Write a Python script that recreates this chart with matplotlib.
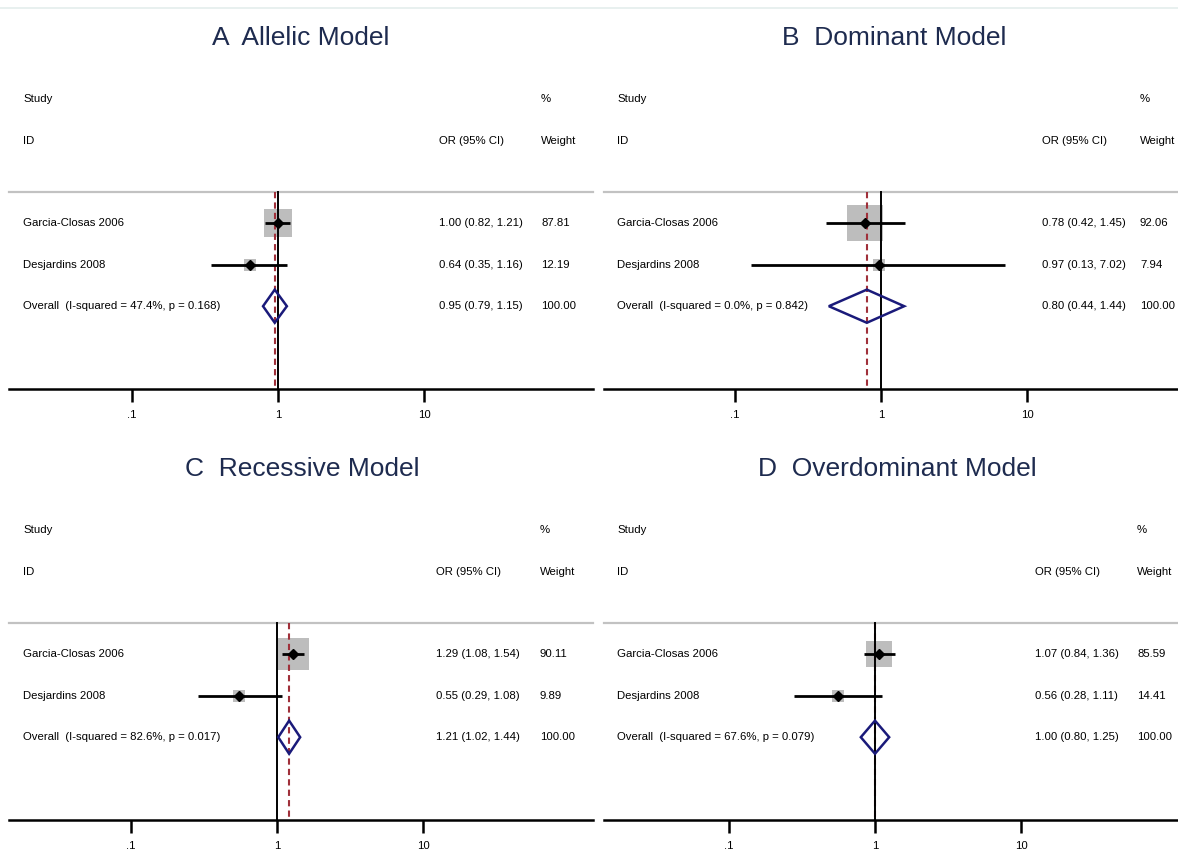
import numpy as np
import matplotlib
matplotlib.use("Agg")
import matplotlib.pyplot as plt
from matplotlib.patches import Polygon
from matplotlib.lines import Line2D
from matplotlib.transforms import blended_transform_factory

plt.rcParams['font.family'] = ['Liberation Sans', 'DejaVu Sans']

# ---------------- data ----------------
titles = ["A  Allelic Model", "B  Dominant Model", "C  Recessive Model", "D  Overdominant Model"]
studies = ["Garcia-Closas 2006", "Desjardins 2008"]

or_est = [[1.00, 0.64], [0.78, 0.97], [1.29, 0.55], [1.07, 0.56]]
or_lo = [[0.82, 0.35], [0.42, 0.13], [1.08, 0.29], [0.84, 0.28]]
or_hi = [[1.21, 1.16], [1.45, 7.02], [1.54, 1.08], [1.36, 1.11]]
weights = [[87.81, 12.19], [92.06, 7.94], [90.11, 9.89], [85.59, 14.41]]

pool_est = [0.95, 0.80, 1.21, 1.00]
pool_lo = [0.79, 0.44, 1.02, 0.80]
pool_hi = [1.15, 1.44, 1.44, 1.25]
i_squared = ["47.4%", "0.0%", "82.6%", "67.6%"]
p_het = ["0.168", "0.842", "0.017", "0.079"]

xticks = [0.1, 1, 10]
xtick_labels = [".1", "1", "10"]

# ---------------- layout (pixels) ----------------
W, H = 1178, 852
DECADE = 146.3
ROW = 41.4
# left, right, null-line x, axis y, (study col, OR col, weight col), title (x, y), box scale
layout = [
    (9, 593, 278, 389, (23, 439, 541), (301, 38), 2.64),
    (604, 1178, 881, 389, (617, 1042, 1140), (894, 38), 3.4),
    (9, 593, 277, 820, (23, 436, 540), (302, 469), 3.0),
    (604, 1178, 875, 820, (617, 1035, 1137), (897, 469), 2.5),
]

TXT = 8.2
NAVY = "#1A1A7A"
RED = "#A0303A"
BOXGRAY = "#BDBDBD"
SEPGRAY = "#C2C2C2"
TITLE_C = "#1E2B4F"

fig = plt.figure(figsize=(W / 100, H / 100), dpi=100)
fig.add_artist(Line2D([0, 1], [1 - 8 / H, 1 - 8 / H], color="#E4EEEC", lw=1.2))

y_top, y_bot = -3.5, 4.0
sep_y = -0.75

for k in range(4):
    left, right, null_x, axis_y, cols, tpos, bscale = layout[k]
    h_px = (y_bot - y_top) * ROW
    ax = fig.add_axes([left / W, 1 - axis_y / H, (right - left) / W, h_px / H])
    ax.set_xscale("log")
    ax.set_xlim(10 ** ((left - null_x) / DECADE), 10 ** ((right - null_x) / DECADE))
    ax.set_ylim(y_bot, y_top)
    ax.patch.set_alpha(0)

    for s in ["top", "left", "right"]:
        ax.spines[s].set_visible(False)
    ax.spines["bottom"].set_linewidth(1.8)
    ax.set_yticks([])
    ax.set_xticks(xticks)
    ax.set_xticklabels(xtick_labels, fontsize=TXT)
    ax.minorticks_off()
    ax.tick_params(axis="x", direction="out", length=9.4, width=1.8, pad=6)

    tr = blended_transform_factory(ax.transAxes, ax.transData)
    fx = [(c - left) / (right - left) for c in cols]

    # header
    ax.text(fx[0], -3, "Study", transform=tr, fontsize=TXT, va="center")
    ax.text(fx[0], -2, "ID", transform=tr, fontsize=TXT, va="center")
    ax.text(fx[1], -2, "OR (95% CI)", transform=tr, fontsize=TXT, va="center")
    ax.text(fx[2], -3, "%", transform=tr, fontsize=TXT, va="center")
    ax.text(fx[2], -2, "Weight", transform=tr, fontsize=TXT, va="center")
    ax.plot([0, 1], [sep_y, sep_y], transform=tr, color=SEPGRAY, lw=1.6, clip_on=False)

    # boxes
    for i in range(len(studies)):
        side_px = bscale * np.sqrt(weights[k][i]) + 3
        ax.plot(or_est[k][i], i, marker="s", ms=side_px * 0.72, color=BOXGRAY,
                mew=0, zorder=2)

    # reference lines
    ax.plot([pool_est[k]] * 2, [sep_y, y_bot], color=RED, lw=1.5, dashes=(3, 2), zorder=3)
    ax.plot([1, 1], [sep_y, y_bot], color="black", lw=1.4, zorder=3.5)

    # CIs and points
    for i in range(len(studies)):
        ax.plot([or_lo[k][i], or_hi[k][i]], [i, i], color="black", lw=2.0, zorder=4,
                solid_capstyle="butt")
        ax.plot(or_est[k][i], i, marker="D", ms=5.4, color="black", zorder=5)
        ax.text(fx[0], i, studies[i], transform=tr, fontsize=TXT, va="center")
        ax.text(fx[1], i, "%.2f (%.2f, %.2f)" % (or_est[k][i], or_lo[k][i], or_hi[k][i]),
                transform=tr, fontsize=TXT, va="center")
        ax.text(fx[2], i, "%.2f" % weights[k][i], transform=tr, fontsize=TXT, va="center")

    # pooled diamond
    yo = len(studies)
    dia = Polygon([(pool_lo[k], yo), (pool_est[k], yo - 0.4), (pool_hi[k], yo),
                   (pool_est[k], yo + 0.4)], closed=True, fill=False, edgecolor=NAVY,
                  lw=1.8, zorder=6)
    ax.add_patch(dia)
    ax.text(fx[0], yo, "Overall  (I-squared = %s, p = %s)" % (i_squared[k], p_het[k]),
            transform=tr, fontsize=TXT, va="center")
    ax.text(fx[1], yo, "%.2f (%.2f, %.2f)" % (pool_est[k], pool_lo[k], pool_hi[k]),
            transform=tr, fontsize=TXT, va="center")
    ax.text(fx[2], yo, "100.00", transform=tr, fontsize=TXT, va="center")

    fig.text(tpos[0] / W, 1 - tpos[1] / H, titles[k], fontsize=19, color=TITLE_C,
             ha="center", va="center")

fig.savefig("out.png", dpi=100)
